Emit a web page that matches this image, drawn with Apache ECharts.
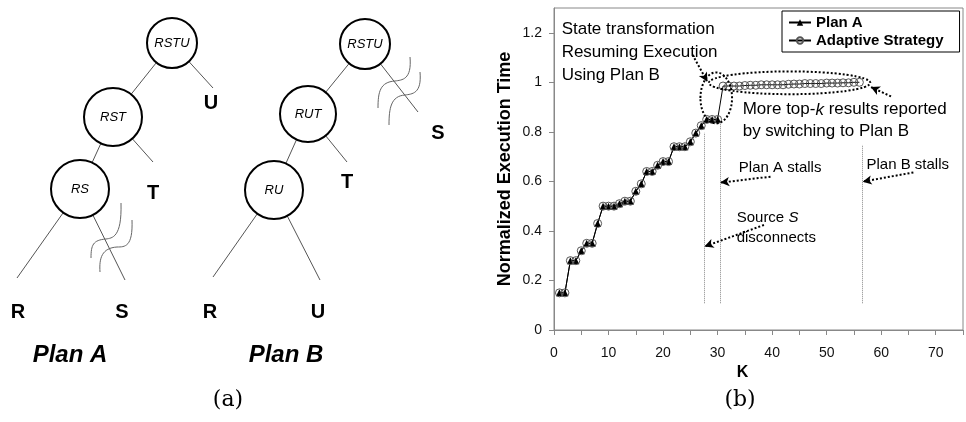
<!DOCTYPE html>
<html>
<head>
<meta charset="utf-8">
<script src="https://cdn.jsdelivr.net/npm/echarts@6/dist/echarts.min.js"></script>
<style>
  html, body { margin: 0; background: #fff; }
  #chart { width: 966px; height: 422px; }
</style>
</head>
<body>
<div id="chart"></div>
<script>
// K values (number of top-k results)
const kSteps = [1, 2, 3, 4, 5, 6, 7, 8, 9, 10, 11, 12, 13, 14, 15, 16, 17, 18, 19, 20,
  21, 22, 23, 24, 25, 26, 27, 28, 29, 30, 31, 32, 33, 34, 35, 36, 37, 38, 39, 40,
  41, 42, 43, 44, 45, 46, 47, 48, 49, 50, 51, 52, 53, 54, 55, 56]

// normalized execution time, Plan A stops at K = 30
const planA = [0.15, 0.15, 0.28, 0.28, 0.32, 0.35, 0.35, 0.43, 0.50, 0.50,
  0.50, 0.51, 0.52, 0.52, 0.56, 0.59, 0.64, 0.64, 0.665, 0.68,
  0.68, 0.74, 0.74, 0.74, 0.76, 0.795, 0.825, 0.85, 0.85, 0.85]

const adaptive = [0.15, 0.15, 0.28, 0.28, 0.32, 0.35, 0.35, 0.43, 0.50, 0.50,
  0.50, 0.51, 0.52, 0.52, 0.56, 0.59, 0.64, 0.64, 0.665, 0.68,
  0.68, 0.74, 0.74, 0.74, 0.76, 0.795, 0.825, 0.85, 0.85, 0.85,
  0.985, 0.985, 0.985, 0.985, 0.987, 0.988, 0.988, 0.99, 0.99, 0.99,
  0.99, 0.99, 0.992, 0.993, 0.993, 0.995, 0.995, 0.995, 0.995, 0.997,
  0.997, 0.997, 0.998, 0.998, 1.0, 1.0]

// vertical dotted markers: [K, from, to]
const stallLines = [[27.6, 0.108, 0.796], [30.4, 0.108, 0.84], [56.5, 0.108, 0.747]]

// dotted arrows, data coords [from, to]
const arrows = [
  [[25.4, 1.111], [28.1, 1.003]],
  [[61.8, 0.943], [58.1, 0.981]],
  [[39.7, 0.619], [30.5, 0.595]],
  [[65.9, 0.636], [56.6, 0.599]],
  [[38.5, 0.424], [27.6, 0.337]]
]

// notes: lines, [K, value] of first line (left, middle), font size, line height
const notes = [
  { lines: ['State transformation', 'Resuming Execution', 'Using Plan B'], at: [1.4, 1.212], size: 17, lh: 23 },
  { lines: ['More top-{i|k} results reported', 'by switching to Plan B'], at: [34.6, 0.889], size: 17, lh: 22 },
  { lines: ['Plan A stalls'], at: [33.9, 0.655], size: 15, lh: 18 },
  { lines: ['Plan B stalls'], at: [57.3, 0.667], size: 15, lh: 18 },
  { lines: ['Source {i|S}', 'disconnects'], at: [33.5, 0.4525], size: 15, lh: 20 }
]

// dotted ellipses: center [K, value], radii in data units
const ellipses = [
  { c: [43.2, 0.998], rk: 14.8, rv: 0.046 },
  { c: [29.75, 0.937], rk: 2.9, rv: 0.103 }
]

const FONT = "'Liberation Sans', Arial, sans-serif"

const chart = echarts.init(document.getElementById('chart'))

chart.setOption({
  animation: false,
  backgroundColor: '#fff',
  grid: {
    left: 554, top: 8, right: -8, bottom: 92,
    show: true, borderColor: '#888', borderWidth: 1
  },
  legend: {
    orient: 'vertical',
    left: 782, top: 11,
    itemGap: 3, itemWidth: 22, itemHeight: 8,
    padding: [4, 16, 4, 6],
    borderColor: '#000', borderWidth: 1,
    textStyle: { fontFamily: FONT, fontWeight: 'bold', fontSize: 15, color: '#000' },
    data: ['Plan A', 'Adaptive Strategy']
  },
  xAxis: {
    type: 'value', min: 0, max: 75, interval: 5,
    name: 'K', nameLocation: 'middle', nameGap: 31,
    nameTextStyle: { fontFamily: FONT, fontWeight: 'bold', fontSize: 16, color: '#000', padding: [0, 32, 0, 0] },
    axisLine: { lineStyle: { color: '#888' } },
    axisTick: { length: 5, lineStyle: { color: '#888' } },
    axisLabel: {
      margin: 16, fontFamily: FONT, fontSize: 14, color: '#111',
      formatter: v => (v % 10 === 0 ? String(v) : '')
    },
    splitLine: { show: false }
  },
  yAxis: {
    type: 'value', min: 0, max: 1.3, interval: 0.2,
    name: 'Normalized Execution Time', nameLocation: 'middle', nameGap: 40,
    nameTextStyle: { fontFamily: FONT, fontWeight: 'bold', fontSize: 18, color: '#000' },
    axisLine: { show: true, lineStyle: { color: '#888' } },
    axisTick: { show: true, length: 5, lineStyle: { color: '#888' } },
    axisLabel: { margin: 12, fontFamily: FONT, fontSize: 14, color: '#111', showMaxLabel: false },
    splitLine: { show: false }
  },
  series: [
    {
      name: 'Plan A',
      type: 'line',
      data: planA.map((v, i) => [kSteps[i], v]),
      symbol: 'triangle', symbolSize: 7,
      lineStyle: { color: '#000', width: 1 },
      itemStyle: { color: '#000' },
      z: 3
    },
    {
      name: 'Adaptive Strategy',
      type: 'line',
      data: adaptive.map((v, i) => [kSteps[i], v]),
      symbol: 'circle', symbolSize: 8,
      lineStyle: { color: '#000', width: 1 },
      itemStyle: { color: 'rgba(255,255,255,0)', borderColor: '#555', borderWidth: 1 },
      z: 4,
      markLine: {
        silent: true,
        animation: false,
        label: { show: false },
        data: stallLines.map(s => [
          { coord: [s[0], s[1]], symbol: 'none', lineStyle: { color: '#888', type: 'dotted', width: 1 } },
          { coord: [s[0], s[2]], symbol: 'none' }
        ]).concat(arrows.map(a => [
          { coord: a[0], symbol: 'none', lineStyle: { color: '#000', type: [2, 2], width: 2 } },
          { coord: a[1], symbol: 'arrow', symbolSize: [7, 9] }
        ]))
      }
    }
  ]
})

// left panel: two join trees
function trim(p, rp, q, rq) {
  const dx = q[0] - p[0], dy = q[1] - p[1]
  const d = Math.sqrt(dx * dx + dy * dy)
  return [p[0] + dx * rp / d, p[1] + dy * rp / d, q[0] - dx * rq / d, q[1] - dy * rq / d]
}

const trees = [
  {
    nodes: { RSTU: [172, 43, 25], RST: [113, 117, 29], RS: [80, 189, 29] },
    leaves: { U: [[213, 88], [211, 103]], T: [[153, 162], [153, 193]], R: [[17, 278], [18, 312]], S: [[125, 280], [122, 312]] },
    edges: [['RSTU', 'RST'], ['RSTU', 'U'], ['RST', 'RS'], ['RST', 'T'], ['RS', 'R'], ['RS', 'S']],
    // broken-link squiggles, cubic segments [x1, y1, cx1, cy1, cx2, cy2, x2, y2]
    waves: [
      [121, 203, 122, 238, 112, 238, 106, 239], [106, 239, 93, 240, 91, 245, 91, 258],
      [132, 220, 133, 247, 125, 247, 117, 247], [117, 247, 102, 248, 99, 258, 100, 272]
    ],
    title: ['Plan A', 70]
  },
  {
    nodes: { RSTU: [365, 44, 25], RUT: [308, 114, 28], RU: [274, 190, 29] },
    leaves: { S: [[418, 112], [438, 133]], T: [[347, 162], [347, 182]], R: [[213, 277], [210, 312]], U: [[320, 280], [318, 312]] },
    edges: [['RSTU', 'RUT'], ['RSTU', 'S'], ['RUT', 'RU'], ['RUT', 'T'], ['RU', 'R'], ['RU', 'U']],
    waves: [
      [410, 57, 412, 80, 402, 80, 395, 81], [395, 81, 380, 82, 378, 92, 378, 108],
      [420, 72, 422, 94, 412, 94, 405, 95], [405, 95, 391, 96, 389, 108, 389, 125]
    ],
    title: ['Plan B', 286]
  }
]

const graphics = []
trees.forEach(t => {
  t.edges.forEach(([a, b]) => {
    const p = t.nodes[a]
    const q = t.nodes[b] ? t.nodes[b] : t.leaves[b][0]
    const seg = trim(p, p[2], q, t.nodes[b] ? q[2] : 0)
    graphics.push({ type: 'line', shape: { x1: seg[0], y1: seg[1], x2: seg[2], y2: seg[3] }, style: { stroke: '#555', lineWidth: 1 }, z: 1 })
  })
  Object.keys(t.nodes).forEach(n => {
    const c = t.nodes[n]
    graphics.push({ type: 'circle', shape: { cx: c[0], cy: c[1], r: c[2] }, style: { fill: '#fff', stroke: '#000', lineWidth: 2 }, z: 2 })
    graphics.push({ type: 'text', x: c[0], y: c[1], style: { text: n, fontFamily: FONT, fontStyle: 'italic', fontSize: 13, fill: '#000', align: 'center', verticalAlign: 'middle' }, z: 3 })
  })
  Object.keys(t.leaves).forEach(n => {
    const l = t.leaves[n][1]
    graphics.push({ type: 'text', x: l[0], y: l[1], style: { text: n, fontFamily: FONT, fontWeight: 'bold', fontSize: 20, fill: '#000', align: 'center', verticalAlign: 'middle' }, z: 3 })
  })
  t.waves.forEach(w => {
    graphics.push({
      type: 'bezierCurve',
      shape: { x1: w[0], y1: w[1], cpx1: w[2], cpy1: w[3], cpx2: w[4], cpy2: w[5], x2: w[6], y2: w[7] },
      style: { fill: null, stroke: '#666', lineWidth: 1 }, z: 2
    })
  })
  graphics.push({ type: 'text', x: t.title[1], y: 355, style: { text: t.title[0], fontFamily: FONT, fontWeight: 'bold', fontStyle: 'italic', fontSize: 24, fill: '#000', align: 'center', verticalAlign: 'middle' } })
})

// captions
graphics.push({ type: 'text', x: 228, y: 400, style: { text: '(a)', fontFamily: "'DejaVu Serif', serif", fontSize: 22, fill: '#000', align: 'center', verticalAlign: 'middle' } })
graphics.push({ type: 'text', x: 740, y: 400, style: { text: '(b)', fontFamily: "'DejaVu Serif', serif", fontSize: 22, fill: '#000', align: 'center', verticalAlign: 'middle' } })

// notes and ellipses placed from data coordinates
const toPx = p => chart.convertToPixel({ gridIndex: 0 }, p)
notes.forEach(n => {
  const p = toPx(n.at)
  graphics.push({
    type: 'text', x: p[0], y: p[1] - n.lh / 2, z: 10,
    style: {
      text: n.lines.join('\n'), fontFamily: FONT, fontSize: n.size, lineHeight: n.lh, fill: '#000',
      align: 'left', verticalAlign: 'top',
      rich: { i: { fontFamily: FONT, fontSize: n.size, fontStyle: 'italic', lineHeight: n.lh, fill: '#000' } }
    }
  })
})
ellipses.forEach(e => {
  const c = toPx(e.c)
  const ex = toPx([e.c[0] + e.rk, e.c[1] + e.rv])
  graphics.push({
    type: 'ellipse', z: 10,
    shape: { cx: c[0], cy: c[1], rx: Math.abs(ex[0] - c[0]), ry: Math.abs(ex[1] - c[1]) },
    style: { fill: null, stroke: '#000', lineWidth: 2, lineDash: [2, 2] }
  })
})

chart.setOption({ graphic: graphics })
</script>
</body>
</html>
